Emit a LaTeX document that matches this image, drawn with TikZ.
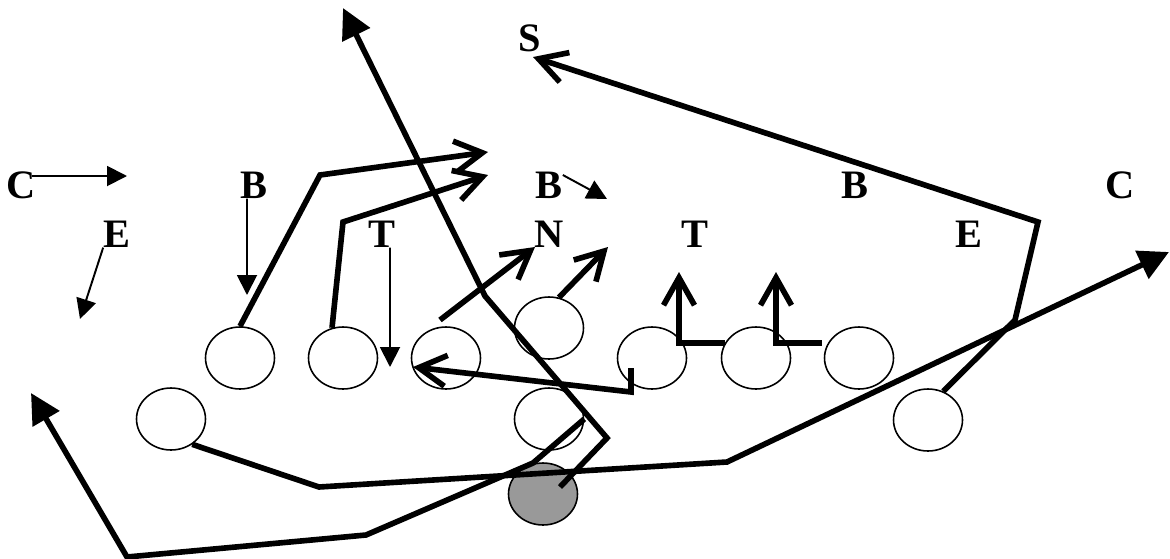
\documentclass[tikz,border=0pt]{standalone}
\usepackage{fontspec}
\setmainfont{Liberation Serif}
\usetikzlibrary{shapes.geometric, arrows.meta}
\definecolor{qbgray}{RGB}{153,153,153}

\begin{document}
\begin{tikzpicture}[x=0.02cm, y=-0.02cm,
    player/.style={ellipse, draw, line width=0.9pt, minimum width=1.38cm, minimum height=1.24cm, inner sep=0pt},
    defender/.style={font=\fontsize{23}{23}\selectfont\bfseries, inner sep=0pt},
    route/.style={line width=3.2pt},
    barb/.style={route, -{Straight Barb[length=0.55cm, width=0.62cm]}},
    bigtip/.style={route, -{Triangle[length=0.6cm, width=0.6cm]}},
    thintip/.style={line width=1.1pt, -{Triangle[length=0.4cm, width=0.4cm]}}
]
\useasboundingbox (0,0) rectangle (1170,558);

% Defense
\node[defender] (cl) at (21,185) {C};
\node[defender] (bl) at (254,185) {B};
\node[defender] (bm) at (549,185) {B};
\node[defender] (br) at (855,185) {B};
\node[defender] (cr) at (1120,185) {C};
\node[defender] (el) at (117,234) {E};
\node[defender] (tl) at (382,234) {T};
\node[defender] (nm) at (549,234) {N};
\node[defender] (tr) at (695,234) {T};
\node[defender] (er) at (969,234) {E};
\node[defender] (ss) at (530,38) {S};

% Offense
\node[player] (o1) at (240,358) {};
\node[player] (o2) at (343,358) {};
\node[player] (o3) at (446,358) {};
\node[player] (oc) at (549,328) {};
\node[player] (o4) at (652,358) {};
\node[player] (o5) at (756,358) {};
\node[player] (o6) at (859,358) {};
\node[player] (ol) at (171,419) {};
\node[player] (ob) at (549,419) {};
\node[player] (or) at (928,420) {};
\node[player, fill=qbgray] (qb) at (543,494) {};

% Free ends
\coordinate (ca) at (127,176);
\coordinate (ea) at (80,319);
\coordinate (ba) at (247,295);
\coordinate (ta) at (390,367);
\coordinate (bma) at (607,199);

% Defense moves
\draw[thintip] ([xshift=-0.08cm, yshift=0.18cm]cl.east) -- (ca);
\draw[thintip] (el.south west) -- (ea);
\draw[thintip] ([xshift=-0.14cm]bl.south) -- (ba);
\draw[thintip] ([xshift=0.16cm]tl.south) -- (ta);
\draw[thintip] ([yshift=0.2cm]bm.east) -- (bma);

% Offense routes
\draw[barb] (o1.north) -- (320,175) -- (488,152);
\draw[barb] (o2.110) -- (343,222) -- (488,175);
\draw[bigtip] (560,487) -- (607,438) -- (485,296) -- (343,8);
\draw[barb] (440,320) -- (535,247);
\draw[barb] (oc.72) -- (608,247);
\draw[barb] (631,368) -- (631,392) -- (413,367);
\draw[barb] (725,343) -- (679,343) -- (679,272);
\draw[barb] (822,343) -- (776,343) -- (776,272);
\draw[barb] (or.62) -- (1015,320) -- (1038,222) -- (533,57);
\draw[bigtip] (ol.-50) -- (319,487) -- (727,462) -- (1169,252);
\draw[bigtip] (ob.east) -- (533,463) -- (366,535) -- (127,557) -- (31,393);

\end{tikzpicture}
\end{document}
